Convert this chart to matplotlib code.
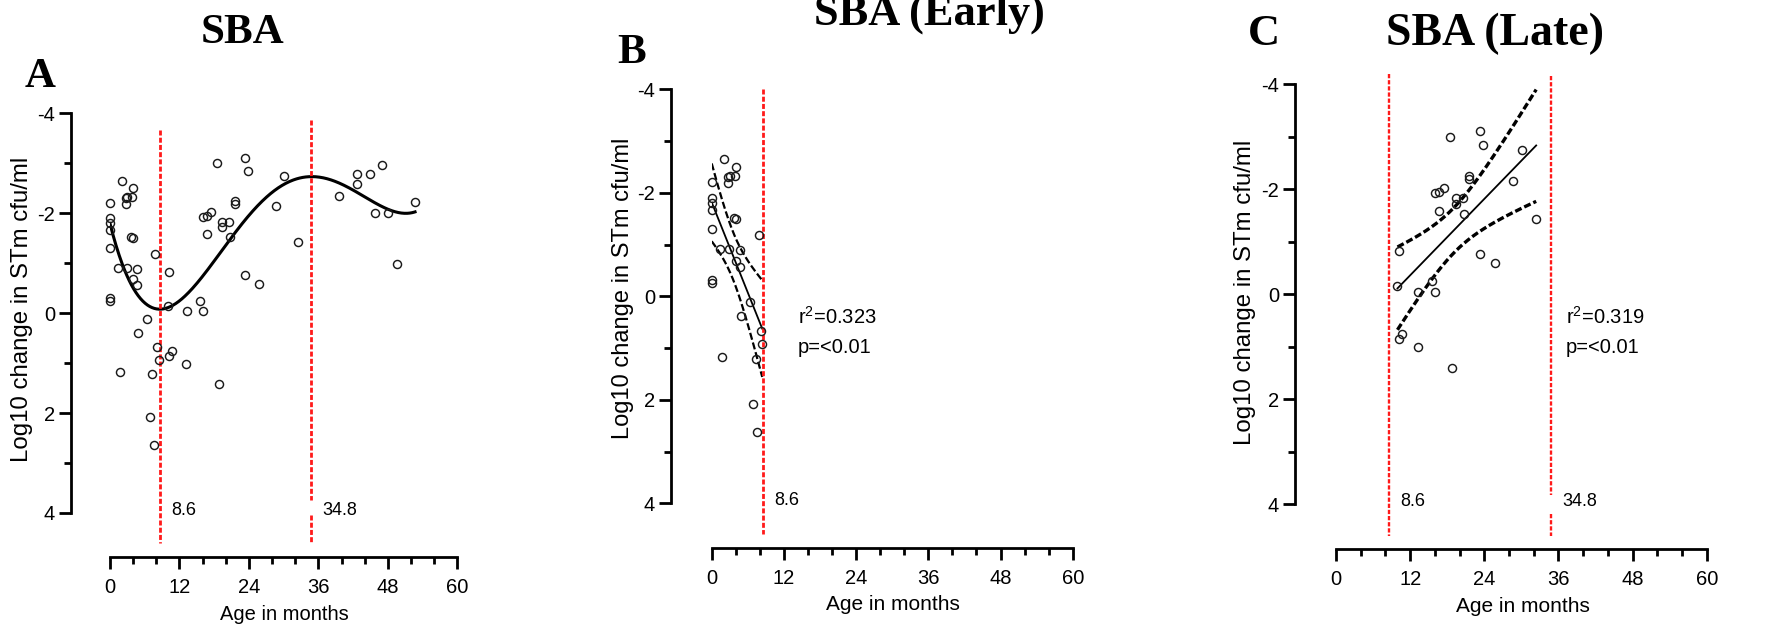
import numpy as np
import matplotlib
matplotlib.use("Agg")
import matplotlib.pyplot as plt
from matplotlib.ticker import MultipleLocator, FixedLocator

plt.rcParams['font.family'] = ['Liberation Sans', 'DejaVu Sans']
plt.rcParams['axes.unicode_minus'] = False
plt.rcParams['mathtext.fontset'] = 'custom'
plt.rcParams['mathtext.rm'] = 'Liberation Sans'
plt.rcParams['mathtext.it'] = 'Liberation Sans:italic'

# Age of each child (months) and log10 change in STm cfu/ml after serum bactericidal assay
age = [0, 0, 0, 0, 0, 0, 0,
       2.07, 2.76, 2.76, 2.99, 3.8, 4.03, 3.68, 4.03, 1.44, 2.88, 4.72, 4.03, 4.72,
       7.83, 6.39, 4.84, 8.17, 8.4, 1.73, 7.31, 6.85, 7.54,
       10.13, 9.95, 13.24, 15.54, 16.0, 16.0, 16.7, 17.44, 16.75, 18.53, 19.4, 19.4,
       20.6, 20.7, 21.6, 21.6, 23.26, 23.84, 23.3, 25.8, 28.7, 30.1, 32.4,
       10.7, 10.13, 13.2, 18.77,
       39.55, 42.6, 42.6, 44.96, 46.98, 45.7, 48.1, 49.6, 52.7]
change = [-2.2, -1.9, -1.81, -1.67, -1.3, -0.31, -0.25,
          -2.65, -2.31, -2.19, -2.33, -2.33, -2.5, -1.52, -1.5, -0.91, -0.91, -0.89, -0.68, -0.57,
          -1.19, 0.11, 0.39, 0.67, 0.93, 1.17, 1.21, 2.08, 2.63,
          -0.82, -0.15, -0.04, -0.25, -0.05, -1.93, -1.95, -2.03, -1.59, -3.0, -1.83, -1.72,
          -1.83, -1.52, -2.25, -2.19, -3.11, -2.85, -0.76, -0.59, -2.15, -2.75, -1.43,
          0.75, 0.85, 1.01, 1.41,
          -2.34, -2.79, -2.59, -2.79, -2.96, -2.0, -2.0, -0.99, -2.23]

# Turning points of the polynomial fit, used to split early / late groups
breaks = [8.6, 34.8]
poly_degree = 4
early_stats = [r"r$^{\mathregular{2}}$=0.323", "p=<0.01"]
late_stats = [r"r$^{\mathregular{2}}$=0.319", "p=<0.01"]
# two-sided 95% t quantiles by degrees of freedom
t95 = {25: 2.060, 26: 2.056, 27: 2.052, 28: 2.048}

age = np.asarray(age, float)
change = np.asarray(change, float)

W, H = 1792, 627
fig = plt.figure(figsize=(W / 100, H / 100), dpi=100)


def px_axes(x0, x60, y_top, y_bot):
    return fig.add_axes([x0 / W, 1 - y_bot / H, (x60 - x0) / W, (y_bot - y_top) / H])


def style(ax, left_off, bottom_off):
    ax.set_xlim(0, 60)
    ax.set_ylim(4, -4)
    for s in ('top', 'right'):
        ax.spines[s].set_visible(False)
    ax.spines['left'].set_position(('outward', left_off))
    ax.spines['bottom'].set_position(('outward', bottom_off))
    for s in ('left', 'bottom'):
        ax.spines[s].set_linewidth(2.0)
    ax.xaxis.set_major_locator(MultipleLocator(12))
    ax.xaxis.set_minor_locator(MultipleLocator(4))
    ax.yaxis.set_major_locator(FixedLocator([-4, -2, 0, 2, 4]))
    ax.yaxis.set_minor_locator(FixedLocator([-3, -1, 1, 3]))
    ax.tick_params(which='major', length=8.6, width=2.0, labelsize=14.5, direction='out')
    ax.tick_params(which='minor', length=5, width=2.0, direction='out')
    ax.tick_params(axis='x', which='major', pad=6.5)
    ax.tick_params(axis='y', which='major', pad=3)
    ax.patch.set_alpha(0)


def points(ax, x, y):
    ax.plot(x, y, 'o', mfc='none', mec='#1a1a1a', ms=5.8, mew=1.05, clip_on=False, zorder=3)


def redline(ax, xb, ytop, label, lw=2.0, gap=None):
    segs = [(ytop, 4.6)] if gap is None else [(ytop, gap[0]), (gap[1], 4.6)]
    for y0, y1 in segs:
        ax.plot([xb, xb], [y0, y1], color='#ff1a1a', lw=lw, ls=(0, (1.8, 0.8)),
                clip_on=False, zorder=2)
    ax.annotate(label, xy=(xb, 3.95), xytext=(8, 0), textcoords='offset points',
                ha='left', va='center', fontsize=13, annotation_clip=False)


def linear_band(x, y):
    n = len(x)
    slope, icpt = np.polyfit(x, y, 1)
    xs = np.linspace(x.min(), x.max(), 200)
    yhat = icpt + slope * xs
    resid = y - (icpt + slope * x)
    s = np.sqrt(np.sum(resid ** 2) / (n - 2))
    sxx = np.sum((x - x.mean()) ** 2)
    se = s * np.sqrt(1.0 / n + (xs - x.mean()) ** 2 / sxx)
    t = t95[n - 2]
    return xs, yhat, yhat - t * se, yhat + t * se


def ftext(px, py, s, **kw):
    fig.text(px / W, 1 - py / H, s, **kw)


title_kw = dict(family=['Liberation Serif', 'DejaVu Serif'], weight='bold')
ylab = "Log10 change in STm cfu/ml"

# ---- A: all children, 4th order polynomial ----
axA = px_axes(110, 457.3, 113.3, 513)
style(axA, 28, 31.5)
coef = np.polyfit(age, change, poly_degree)
xs = np.linspace(age.min(), age.max(), 400)
axA.plot(xs, np.polyval(coef, xs), color='black', lw=2.2, zorder=2)
points(axA, age, change)
redline(axA, breaks[0], -3.66, "8.6")
redline(axA, breaks[1], -3.86, "34.8", gap=(3.74, 4.05))
ftext(243, 43.3, "SBA", ha='center', va='baseline', fontsize=31, **title_kw)
ftext(25, 87.3, "A", ha='left', va='baseline', fontsize=31, **title_kw)
ftext(22.5, 309, ylab, rotation=90, ha='center', va='center', fontsize=17.3)
ftext(284, 615, "Age in months", ha='center', va='center', fontsize=14.5)

# ---- B: early group ----
axB = px_axes(711.7, 1072.7, 89.3, 503.3)
style(axB, 29.3, 32.4)
mB = age <= breaks[0]
xB, yB = age[mB], change[mB]
xs, yh, lo, hi = linear_band(xB, yB)
axB.plot(xs, yh, color='black', lw=1.3, zorder=2)
axB.plot(xs, lo, color='black', lw=1.6, ls=(0, (3.2, 1.3)), zorder=2)
axB.plot(xs, hi, color='black', lw=1.6, ls=(0, (3.2, 1.3)), zorder=2)
points(axB, xB, yB)
redline(axB, breaks[0], -4.0, "8.6")
axB.text(14.3, 0.54, early_stats[0], ha='left', va='baseline', fontsize=14.5)
axB.text(14.3, 1.09, early_stats[1], ha='left', va='baseline', fontsize=14.5)
ftext(929.5, 25, "SBA (Early)", ha='center', va='baseline', fontsize=32, **title_kw)
ftext(617, 63, "B", ha='left', va='baseline', fontsize=31, **title_kw)
ftext(623, 288.5, ylab, rotation=90, ha='center', va='center', fontsize=17)
ftext(892.8, 605, "Age in months", ha='center', va='center', fontsize=15)

# ---- C: late group ----
axC = px_axes(1336, 1706.7, 84.3, 504.3)
style(axC, 29.5, 32.4)
mC = (age > breaks[0]) & (age <= breaks[1])
xC, yC = age[mC], change[mC]
xs, yh, lo, hi = linear_band(xC, yC)
axC.plot(xs, yh, color='black', lw=1.3, zorder=2)
axC.plot(xs, lo, color='black', lw=2.4, ls=(0, (2.1, 0.9)), zorder=2)
axC.plot(xs, hi, color='black', lw=2.4, ls=(0, (2.1, 0.9)), zorder=2)
points(axC, xC, yC)
redline(axC, breaks[0], -4.2, "8.6", lw=1.7)
redline(axC, breaks[1], -4.15, "34.8", lw=1.7, gap=(3.82, 4.18))
axC.text(37.2, 0.56, late_stats[0], ha='left', va='baseline', fontsize=14.5)
axC.text(37.2, 1.11, late_stats[1], ha='left', va='baseline', fontsize=14.5)
ftext(1494.5, 45, "SBA (Late)", ha='center', va='baseline', fontsize=33, **title_kw)
ftext(1248, 45, "C", ha='left', va='baseline', fontsize=32, **title_kw)
ftext(1245, 292.5, ylab, rotation=90, ha='center', va='center', fontsize=17.3)
ftext(1522.5, 607, "Age in months", ha='center', va='center', fontsize=15)

fig.savefig("out.png", dpi=100)
